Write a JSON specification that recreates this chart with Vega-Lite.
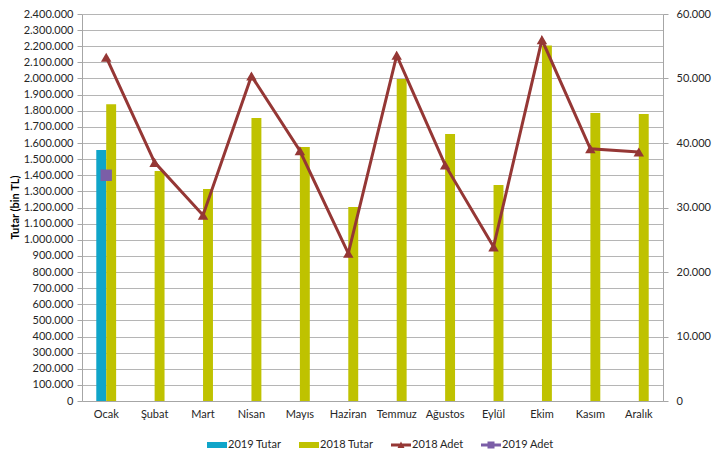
{
  "$schema": "https://vega.github.io/schema/vega-lite/v6.json",
  "width": 581,
  "height": 387,
  "autosize": {"type": "none"},
  "padding": {"left": 82, "top": 14, "right": 54, "bottom": 65},
  "background": "white",
  "config": {
    "locale": {"number": {"decimal": ",", "thousands": ".", "grouping": [3], "currency": ["", ""]}},
    "font": "Lato",
    "view": {"stroke": null},
    "axis": {"labelFont": "Lato", "labelFontSize": 11, "labelColor": "#262626", "titleFont": "Lato"},
    "legend": {"labelFont": "Lato", "labelFontSize": 11, "labelColor": "#262626"}
  },
  "data": {
    "values": [
      {"month": "Ocak", "series": "2019 Tutar", "value": 1557000},
      {"month": "Ocak", "series": "2018 Tutar", "value": 1840000},
      {"month": "Şubat", "series": "2018 Tutar", "value": 1426000},
      {"month": "Mart", "series": "2018 Tutar", "value": 1315000},
      {"month": "Nisan", "series": "2018 Tutar", "value": 1755000},
      {"month": "Mayıs", "series": "2018 Tutar", "value": 1575000},
      {"month": "Haziran", "series": "2018 Tutar", "value": 1203000},
      {"month": "Temmuz", "series": "2018 Tutar", "value": 1997000},
      {"month": "Ağustos", "series": "2018 Tutar", "value": 1656000},
      {"month": "Eylül", "series": "2018 Tutar", "value": 1340000},
      {"month": "Ekim", "series": "2018 Tutar", "value": 2205000},
      {"month": "Kasım", "series": "2018 Tutar", "value": 1786000},
      {"month": "Aralık", "series": "2018 Tutar", "value": 1780000},
      {"month": "Ocak", "series": "2018 Adet", "value": 53300},
      {"month": "Şubat", "series": "2018 Adet", "value": 37000},
      {"month": "Mart", "series": "2018 Adet", "value": 28800},
      {"month": "Nisan", "series": "2018 Adet", "value": 50400},
      {"month": "Mayıs", "series": "2018 Adet", "value": 38800},
      {"month": "Haziran", "series": "2018 Adet", "value": 22900},
      {"month": "Temmuz", "series": "2018 Adet", "value": 53600},
      {"month": "Ağustos", "series": "2018 Adet", "value": 36600},
      {"month": "Eylül", "series": "2018 Adet", "value": 23900},
      {"month": "Ekim", "series": "2018 Adet", "value": 56000},
      {"month": "Kasım", "series": "2018 Adet", "value": 39100},
      {"month": "Aralık", "series": "2018 Adet", "value": 38600},
      {"month": "Ocak", "series": "2019 Adet", "value": 35000}
    ]
  },
  "encoding": {
    "x": {
      "field": "month", "type": "nominal", "sort": null,
      "scale": {"domain": ["Ocak","Şubat","Mart","Nisan","Mayıs","Haziran","Temmuz","Ağustos","Eylül","Ekim","Kasım","Aralık"], "paddingInner": 0.59, "paddingOuter": 0.295},
      "axis": {"title": null, "labelAngle": 0, "ticks": false, "domainColor": "#a6a6a6", "labelPadding": 7, "labelFontSize": 11}
    }
  },
  "layer": [
    {
      "encoding": {
        "y": {
          "field": "value", "type": "quantitative",
          "scale": {"domain": [0, 2400000], "nice": false},
          "axis": {
            "title": "Tutar (bin TL)", "titleFontWeight": "bold", "titleFontSize": 11, "titleColor": "#000",
            "titleX": -62, "titleY": 193, "titleAngle": -90, "titleBaseline": "bottom",
            "format": ",.0f", "values": [0,100000,200000,300000,400000,500000,600000,700000,800000,900000,1000000,1100000,1200000,1300000,1400000,1500000,1600000,1700000,1800000,1900000,2000000,2100000,2200000,2300000,2400000],
            "grid": true, "gridColor": "#b5b5b5", "gridWidth": 1,
            "domainColor": "#a6a6a6", "tickColor": "#a6a6a6", "tickSize": 5, "labelPadding": 4
          }
        }
      },
      "layer": [
        {
          "transform": [{"filter": "datum.series == '2019 Tutar' || datum.series == '2018 Tutar'"}],
          "mark": {"type": "bar"},
          "encoding": {
            "xOffset": {"field": "series", "type": "nominal", "scale": {"domain": ["2019 Tutar", "2018 Tutar"], "paddingInner": 0}},
            "color": {"field": "series", "type": "nominal"}
          }
        },
        {
          "transform": [{"filter": "datum.series == '2019 Tutar' || datum.series == '2018 Tutar'"}],
          "mark": {"type": "point", "filled": true, "opacity": 0},
          "encoding": {
            "color": {
              "field": "series", "type": "nominal",
              "scale": {"domain": ["2019 Tutar", "2018 Tutar", "2018 Adet", "2019 Adet"], "range": ["#10a5c9", "#bfc200", "#953735", "#7b5ea7"]},
              "legend": {
                "title": null, "orient": "none", "direction": "horizontal", "legendX": 125, "legendY": 421,
                "symbolSize": 400, "labelOffset": 1, "columnPadding": 17, "symbolOpacity": 1, "symbolStrokeWidth": 0
              }
            },
            "shape": {
              "field": "series", "type": "nominal",
              "scale": {"domain": ["2019 Tutar", "2018 Tutar", "2018 Adet", "2019 Adet"], "range": ["M-1,-0.3H1V0.3H-1Z", "M-1,-0.3H1V0.3H-1Z", "M-1,-0.15H1V0.15H-1Z M0,-0.35L0.35,0.3H-0.35Z", "M-1,-0.15H1V0.15H-1Z M-0.35,-0.35H0.35V0.35H-0.35Z"]},
              "legend": {
                "title": null, "orient": "none", "direction": "horizontal", "legendX": 125, "legendY": 421,
                "symbolSize": 400, "labelOffset": 1, "columnPadding": 17, "symbolOpacity": 1, "symbolStrokeWidth": 0
              }
            }
          }
        }
      ]
    },
    {
      "encoding": {
        "y": {
          "field": "value", "type": "quantitative",
          "scale": {"domain": [0, 60000], "nice": false},
          "axis": {
            "title": null, "orient": "right", "format": ",.0f",
            "values": [0,10000,20000,30000,40000,50000,60000],
            "grid": false, "domainColor": "#a6a6a6", "tickColor": "#a6a6a6", "tickSize": 5, "labelPadding": 8
          }
        }
      },
      "layer": [
        {
          "transform": [{"filter": "datum.series == '2018 Adet'"}],
          "mark": {"type": "line", "color": "#953735", "strokeWidth": 3}
        },
        {
          "transform": [{"filter": "datum.series == '2018 Adet'"}],
          "mark": {"type": "point", "shape": "triangle-up", "filled": true, "color": "#953735", "size": 110, "opacity": 1}
        },
        {
          "transform": [{"filter": "datum.series == '2019 Adet'"}],
          "mark": {"type": "point", "shape": "square", "filled": true, "color": "#7b5ea7", "size": 130, "opacity": 1}
        }
      ]
    }
  ],
  "resolve": {"scale": {"y": "independent"}}
}
